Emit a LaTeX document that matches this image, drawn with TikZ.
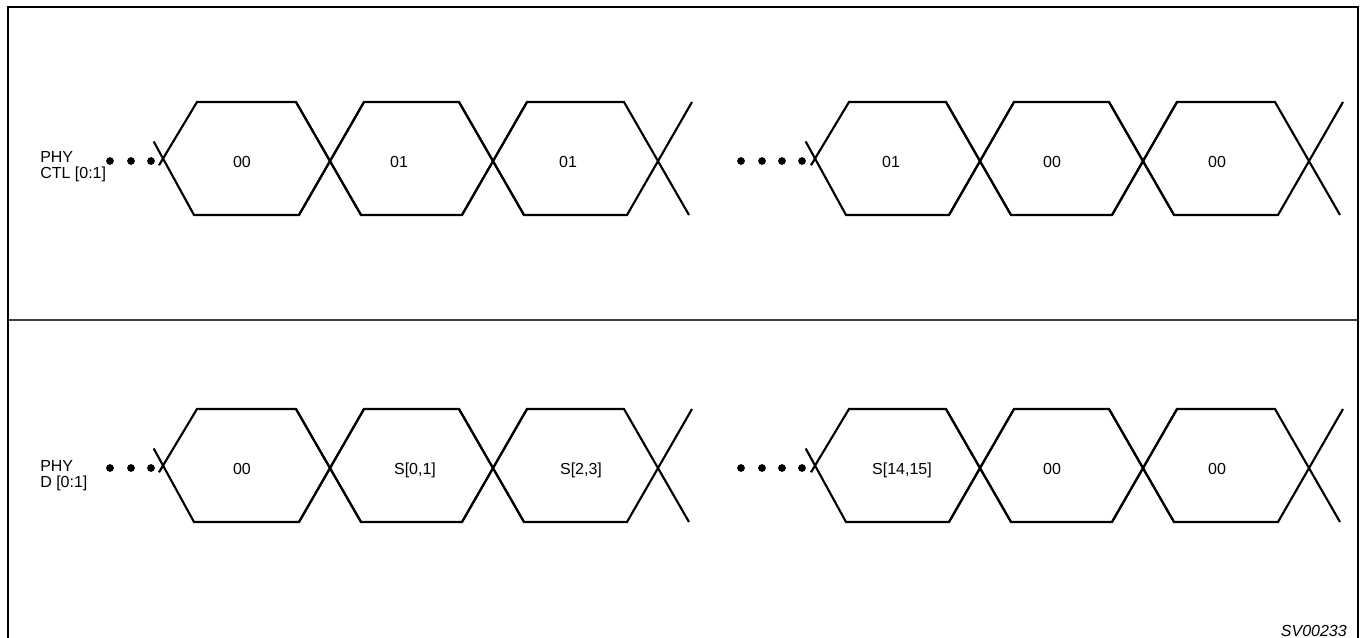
\documentclass[tikz,border=0pt]{standalone}
\usepackage{fontspec}
\setmainfont{Liberation Sans}
\begin{document}
\begin{tikzpicture}[x=0.75pt,y=-0.75pt,
  wave/.style={line width=1.6pt, line join=miter},
  frameline/.style={line width=1.9pt},
  divline/.style={line width=0.9pt, black!75},
  dotmark/.style={fill=black},
  sig/.style={anchor=base west, inner sep=0pt, font=\fontsize{12}{14}\selectfont},
  val/.style={anchor=base, inner sep=0pt, font=\fontsize{12}{14}\selectfont},
  tag/.style={anchor=base east, inner sep=0pt, font=\fontsize{12}{14}\selectfont\itshape}]
\useasboundingbox (0,0) rectangle (1361,638);
% frame
\draw[frameline] (8,640) -- (8,7) -- (1358,7) -- (1358,640);
\draw[divline] (9,320) -- (1357,320);
% waveforms
\foreach \T in {102,409}{
  \pgfmathsetmacro\B{\T+113}
  \pgfmathsetmacro\M{\T+56.5}
  \foreach \a/\b/\c/\d in {163/330/493/658,815/980/1143/1309}{
    \draw[wave] (\a-4,\M+6.8) -- (\a+34,\T) -- (\b-34,\T) -- (\b+31,\B);
    \draw[wave] (\a-9.3,\M-17) -- (\a+31,\B) -- (\b-31,\B) -- (\b+34,\T);
    \foreach \p/\q in {\b/\c,\c/\d}{
      \draw[wave] (\p-31,\B) -- (\p+34,\T) -- (\q-34,\T) -- (\q+31,\B);
      \draw[wave] (\p-34,\T) -- (\p+31,\B) -- (\q-31,\B) -- (\q+34,\T);
    }
  }
  \foreach \x in {110,131,151,741,762,782,802}{
    \fill[dotmark] (\x,\M+2.5) circle[radius=2.9pt];
  }
}
% signal names
\node[sig] (ctlA) at (40,163) {PHY};
\node[sig] (ctlB) at (40,179) {CTL [0:1]};
\node[sig] (dA) at (40,471) {PHY};
\node[sig] (dB) at (40,487) {D [0:1]};
% values row 1
\node[val] (c1) at (242,167.5) {00};
\node[val] (c2) at (399,167.5) {01};
\node[val] (c3) at (568,167.5) {01};
\node[val] (c4) at (891,167.5) {01};
\node[val] (c5) at (1052,167.5) {00};
\node[val] (c6) at (1217,167.5) {00};
% values row 2
\node[val] (d1) at (242,474) {00};
\node[val] (d2) at (415,474) {S[0,1]};
\node[val] (d3) at (581,474) {S[2,3]};
\node[val] (d4) at (902,474) {S[14,15]};
\node[val] (d5) at (1052,474) {00};
\node[val] (d6) at (1217,474) {00};
% tag
\node[tag] (sv) at (1347,636) {SV00233};
\end{tikzpicture}
\end{document}
